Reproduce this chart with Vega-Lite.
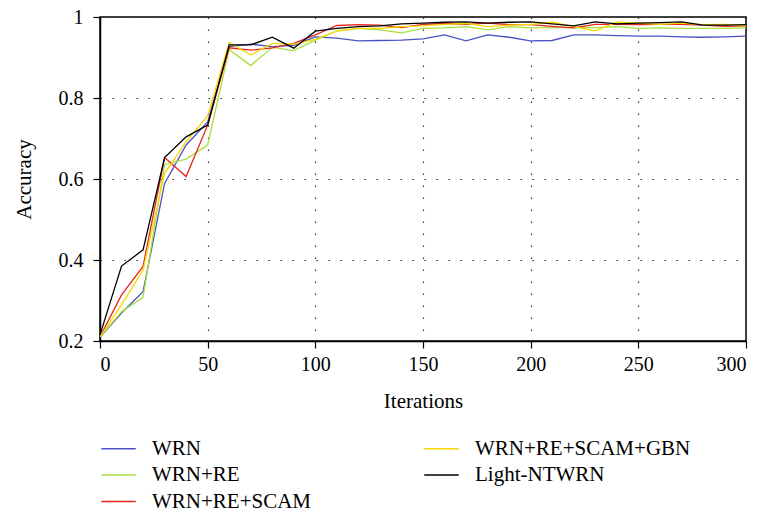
{
  "$schema": "https://vega.github.io/schema/vega-lite/v6.json",
  "autosize": "none",
  "width": 646,
  "height": 324,
  "padding": {"left": 100, "top": 17, "right": 18, "bottom": 174},
  "background": "white",
  "config": {
    "font": "Liberation Serif",
    "view": {"stroke": "#000", "strokeWidth": 1.5},
    "axis": {
      "labelFont": "Liberation Serif", "titleFont": "Liberation Serif",
      "labelFontSize": 20, "titleFontSize": 21, "titleFontWeight": "normal",
      "labelColor": "#000", "titleColor": "#000",
      "domainColor": "#000", "domainWidth": 1.5,
      "tickColor": "#000", "tickWidth": 1.2, "tickSize": 7,
      "gridColor": "#333", "gridWidth": 1.2, "gridDash": [1.5, 10.5]
    },
    "legend": {
      "labelFont": "Liberation Serif", "labelFontSize": 21, "labelColor": "#000", "labelLimit": 0
    }
  },
  "data": {"values": [
    {"it": 0, "WRN": 0.21, "WRN+RE": 0.21, "WRN+RE+SCAM": 0.21, "WRN+RE+SCAM+GBN": 0.21, "Light-NTWRN": 0.215},
    {"it": 10, "WRN": 0.269, "WRN+RE": 0.272, "WRN+RE+SCAM": 0.314, "WRN+RE+SCAM+GBN": 0.289, "Light-NTWRN": 0.385},
    {"it": 20, "WRN": 0.322, "WRN+RE": 0.308, "WRN+RE+SCAM": 0.384, "WRN+RE+SCAM+GBN": 0.375, "Light-NTWRN": 0.425},
    {"it": 30, "WRN": 0.589, "WRN+RE": 0.636, "WRN+RE+SCAM": 0.653, "WRN+RE+SCAM+GBN": 0.614, "Light-NTWRN": 0.653},
    {"it": 40, "WRN": 0.684, "WRN+RE": 0.649, "WRN+RE+SCAM": 0.606, "WRN+RE+SCAM+GBN": 0.692, "Light-NTWRN": 0.704},
    {"it": 50, "WRN": 0.741, "WRN+RE": 0.684, "WRN+RE+SCAM": 0.733, "WRN+RE+SCAM+GBN": 0.756, "Light-NTWRN": 0.733},
    {"it": 60, "WRN": 0.927, "WRN+RE": 0.92, "WRN+RE+SCAM": 0.924, "WRN+RE+SCAM+GBN": 0.937, "Light-NTWRN": 0.931},
    {"it": 70, "WRN": 0.933, "WRN+RE": 0.88, "WRN+RE+SCAM": 0.918, "WRN+RE+SCAM+GBN": 0.906, "Light-NTWRN": 0.931},
    {"it": 80, "WRN": 0.927, "WRN+RE": 0.925, "WRN+RE+SCAM": 0.924, "WRN+RE+SCAM+GBN": 0.935, "Light-NTWRN": 0.95},
    {"it": 90, "WRN": 0.93, "WRN+RE": 0.917, "WRN+RE+SCAM": 0.935, "WRN+RE+SCAM+GBN": 0.933, "Light-NTWRN": 0.923},
    {"it": 100, "WRN": 0.951, "WRN+RE": 0.943, "WRN+RE+SCAM": 0.956, "WRN+RE+SCAM+GBN": 0.945, "Light-NTWRN": 0.965},
    {"it": 110, "WRN": 0.948, "WRN+RE": 0.966, "WRN+RE+SCAM": 0.979, "WRN+RE+SCAM+GBN": 0.965, "Light-NTWRN": 0.972},
    {"it": 120, "WRN": 0.941, "WRN+RE": 0.972, "WRN+RE+SCAM": 0.981, "WRN+RE+SCAM+GBN": 0.972, "Light-NTWRN": 0.976},
    {"it": 130, "WRN": 0.942, "WRN+RE": 0.968, "WRN+RE+SCAM": 0.98, "WRN+RE+SCAM+GBN": 0.972, "Light-NTWRN": 0.978},
    {"it": 140, "WRN": 0.943, "WRN+RE": 0.961, "WRN+RE+SCAM": 0.974, "WRN+RE+SCAM+GBN": 0.976, "Light-NTWRN": 0.983},
    {"it": 150, "WRN": 0.946, "WRN+RE": 0.972, "WRN+RE+SCAM": 0.982, "WRN+RE+SCAM+GBN": 0.978, "Light-NTWRN": 0.985},
    {"it": 160, "WRN": 0.956, "WRN+RE": 0.973, "WRN+RE+SCAM": 0.984, "WRN+RE+SCAM+GBN": 0.982, "Light-NTWRN": 0.987},
    {"it": 170, "WRN": 0.941, "WRN+RE": 0.976, "WRN+RE+SCAM": 0.982, "WRN+RE+SCAM+GBN": 0.984, "Light-NTWRN": 0.988},
    {"it": 180, "WRN": 0.956, "WRN+RE": 0.968, "WRN+RE+SCAM": 0.985, "WRN+RE+SCAM+GBN": 0.976, "Light-NTWRN": 0.985},
    {"it": 190, "WRN": 0.95, "WRN+RE": 0.976, "WRN+RE+SCAM": 0.981, "WRN+RE+SCAM+GBN": 0.98, "Light-NTWRN": 0.987},
    {"it": 200, "WRN": 0.941, "WRN+RE": 0.973, "WRN+RE+SCAM": 0.981, "WRN+RE+SCAM+GBN": 0.982, "Light-NTWRN": 0.988},
    {"it": 210, "WRN": 0.942, "WRN+RE": 0.974, "WRN+RE+SCAM": 0.977, "WRN+RE+SCAM+GBN": 0.987, "Light-NTWRN": 0.983},
    {"it": 220, "WRN": 0.956, "WRN+RE": 0.974, "WRN+RE+SCAM": 0.973, "WRN+RE+SCAM+GBN": 0.976, "Light-NTWRN": 0.978},
    {"it": 230, "WRN": 0.956, "WRN+RE": 0.974, "WRN+RE+SCAM": 0.982, "WRN+RE+SCAM+GBN": 0.966, "Light-NTWRN": 0.988},
    {"it": 240, "WRN": 0.954, "WRN+RE": 0.976, "WRN+RE+SCAM": 0.982, "WRN+RE+SCAM+GBN": 0.987, "Light-NTWRN": 0.983},
    {"it": 250, "WRN": 0.953, "WRN+RE": 0.972, "WRN+RE+SCAM": 0.981, "WRN+RE+SCAM+GBN": 0.985, "Light-NTWRN": 0.985},
    {"it": 260, "WRN": 0.953, "WRN+RE": 0.973, "WRN+RE+SCAM": 0.982, "WRN+RE+SCAM+GBN": 0.982, "Light-NTWRN": 0.986},
    {"it": 270, "WRN": 0.951, "WRN+RE": 0.972, "WRN+RE+SCAM": 0.982, "WRN+RE+SCAM+GBN": 0.985, "Light-NTWRN": 0.988},
    {"it": 280, "WRN": 0.95, "WRN+RE": 0.972, "WRN+RE+SCAM": 0.98, "WRN+RE+SCAM+GBN": 0.981, "Light-NTWRN": 0.98},
    {"it": 290, "WRN": 0.951, "WRN+RE": 0.972, "WRN+RE+SCAM": 0.977, "WRN+RE+SCAM+GBN": 0.982, "Light-NTWRN": 0.98},
    {"it": 300, "WRN": 0.953, "WRN+RE": 0.973, "WRN+RE+SCAM": 0.978, "WRN+RE+SCAM+GBN": 0.978, "Light-NTWRN": 0.981}
  ]},
  "transform": [
    {"fold": ["WRN", "WRN+RE", "WRN+RE+SCAM", "WRN+RE+SCAM+GBN", "Light-NTWRN"], "as": ["model", "acc"]}
  ],
  "mark": {"type": "line", "strokeWidth": 1.3, "clip": true},
  "encoding": {
    "x": {
      "field": "it", "type": "quantitative",
      "scale": {"domain": [0, 300], "nice": false},
      "axis": {"title": "Iterations", "values": [0, 50, 100, 150, 200, 250, 300], "labelPadding": 6, "titlePadding": 16, "grid": true}
    },
    "y": {
      "field": "acc", "type": "quantitative",
      "scale": {"domain": [0.2, 1], "nice": false, "zero": false},
      "axis": {"title": "Accuracy", "values": [0.2, 0.4, 0.6, 0.8, 1], "format": ".1~f", "labelPadding": 10, "titlePadding": 24, "grid": true}
    },
    "color": {
      "field": "model", "type": "nominal",
      "scale": {
        "domain": ["WRN", "WRN+RE", "WRN+RE+SCAM", "WRN+RE+SCAM+GBN", "Light-NTWRN"],
        "range": ["#4a52c4", "#a8e03c", "#e8261c", "#f5d800", "#000000"]
      },
      "legend": {
        "title": null, "orient": "none", "legendX": 6, "legendY": 419,
        "columns": 2, "direction": "vertical",
        "symbolType": "M-1.5,0H1.5", "symbolSize": 529, "symbolStrokeWidth": 1.5,
        "labelOffset": 21, "columnPadding": 109, "rowPadding": 3.5, "padding": 0
      }
    }
  }
}
